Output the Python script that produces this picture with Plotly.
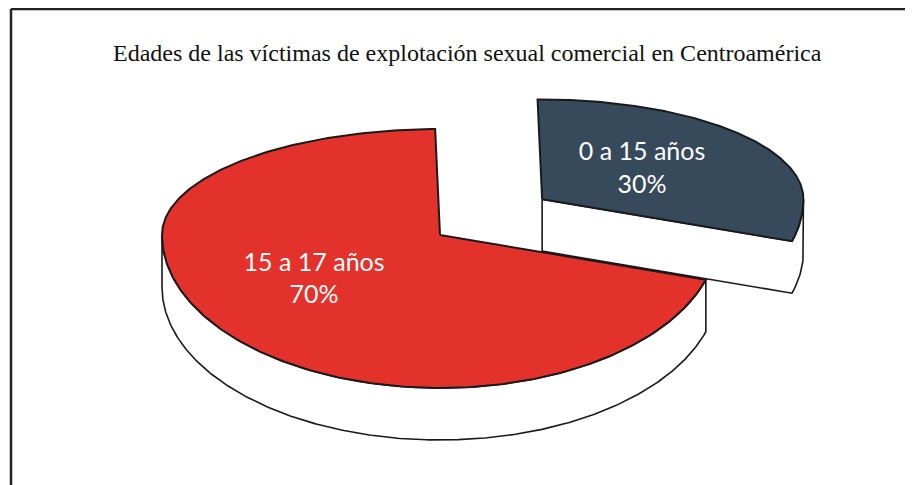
import numpy as np
import plotly.graph_objects as go

# ---- data ----
labels = ["0 a 15 años", "15 a 17 años"]
values = [30, 70]
colors = ["#364A5C", "#E3312B"]
title = "Edades de las víctimas de explotación sexual comercial en Centroamérica"

# ---- 3D pie geometry (layout parameters; axes are in window pixels) ----
W, H = 913, 485
OFF = 8                    # page body margin
cx, cy = 440, 235          # centre of the pie
rx, ry_top, ry_bot = 278, 106, 153
depth = 52
start_angle = 91           # degrees, slices go clockwise
explode = [0.46, 0.0]
scale = [0.94, 1.0]        # perspective: the exploded slice sits further back
label_r = [0.45, 0.54]


def pt(theta_deg, ox, oy, sc=1.0, dz=0.0):
    t = np.radians(theta_deg)
    ry = np.where(np.sin(t) > 0, ry_top, ry_bot)
    return ox + sc * rx * np.cos(t), oy - sc * ry * np.sin(t) + dz


total = sum(values)
slices = []
a = start_angle
for lab, v, col, ex, sc, lr in zip(labels, values, colors, explode, scale, label_r):
    span = 360.0 * v / total
    a0, a1 = a, a - span
    mid = (a0 + a1) / 2
    ox = cx + ex * rx * np.cos(np.radians(mid))
    oy = cy - ex * 0.5 * (ry_top + ry_bot) * np.sin(np.radians(mid))
    slices.append(dict(label=lab, value=v, color=col, a0=a0, a1=a1, mid=mid,
                       ox=ox, oy=oy, sc=sc, lr=lr, exploded=ex > 0))
    a = a1

fig = go.Figure()
line_col = "#1a1a1a"


def add_poly(xs, ys, fill, width=2):
    xs, ys = list(xs), list(ys)
    fig.add_trace(go.Scatter(x=xs + [xs[0]], y=ys + [ys[0]],
                             mode="lines", fill="toself", fillcolor=fill,
                             line=dict(color=line_col, width=width),
                             hoverinfo="skip", showlegend=False))


def side_and_top(s):
    ox, oy, sc = s["ox"], s["oy"], s["sc"]
    a0, a1 = s["a0"], s["a1"]
    th = np.linspace(a0, a1, 300)
    if s["exploded"]:
        # cut face at a1 plus the short outer band up to the rightmost point
        band = np.linspace(a1, 0, 20)
        tx, ty = pt(band, ox, oy, sc)
        bx, by = pt(band[::-1], ox, oy, sc, depth)
        xs = [ox] + list(tx) + list(bx) + [ox]
        ys = [oy] + list(ty) + list(by) + [oy + depth]
        add_poly(xs, ys, "white", 1.6)
    else:
        band = np.linspace(a0, -180, 300)
        tx, ty = pt(band, ox, oy, sc)
        bx, by = pt(band[::-1], ox, oy, sc, depth)
        add_poly(list(tx) + list(bx), list(ty) + list(by), "white", 1.6)
    tx, ty = pt(th, ox, oy, sc)
    add_poly([ox] + list(tx), [oy] + list(ty), s["color"], 2)


for s in slices:
    side_and_top(s)

# labels
for s in slices:
    t = np.radians(s["mid"])
    ry = ry_top if np.sin(t) > 0 else ry_bot
    lx = s["ox"] + s["lr"] * rx * np.cos(t) - (6 if not s["exploded"] else 0)
    ly = s["oy"] - s["lr"] * ry * np.sin(t) - (4 if not s["exploded"] else 0)
    fig.add_trace(go.Scatter(x=[lx], y=[ly], mode="text",
                             text=[f"{s['label']}<br>{s['value']}%"],
                             textfont=dict(family="Lato", size=25, color="white"),
                             hoverinfo="skip", showlegend=False))

# frame (only the left and top edges are inside the picture)
fig.add_shape(type="line", xref="x", yref="y", x0=11, y0=9, x1=W + 30, y1=9,
              line=dict(color="#222222", width=2.5), layer="above")
fig.add_shape(type="line", xref="x", yref="y", x0=11, y0=9, x1=11, y1=H + 30,
              line=dict(color="#222222", width=2.5), layer="above")

fig.add_annotation(x=467, y=53, xref="x", yref="y", text=title,
                   showarrow=False,
                   font=dict(family="Liberation Serif", size=24, color="#111111"))

fig.update_layout(width=W - OFF, height=H - OFF, margin=dict(l=0, r=0, t=0, b=0),
                  paper_bgcolor="white", plot_bgcolor="white",
                  xaxis=dict(range=[OFF, W], visible=False, fixedrange=True),
                  yaxis=dict(range=[H, OFF], visible=False, fixedrange=True),
                  showlegend=False)

fig.write_html("out.html")
